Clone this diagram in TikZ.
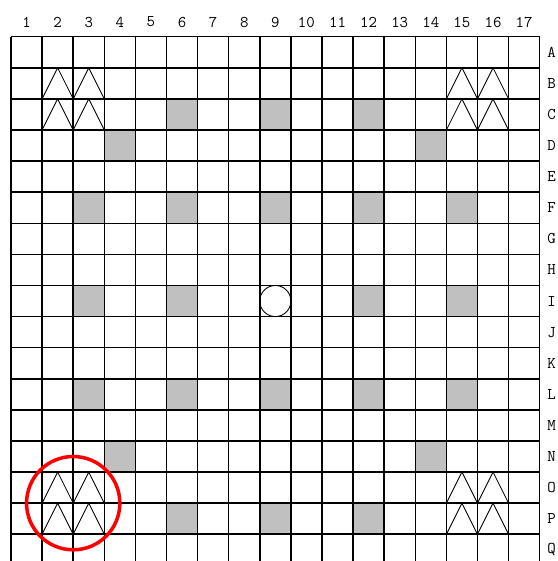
\documentclass[tikz,border=0pt]{standalone}
\usetikzlibrary{calc}
\definecolor{cellgray}{RGB}{192,192,192}
\tikzset{every node/.style={font=\ttfamily\fontsize{15}{17}\selectfont,inner sep=0pt},gridline/.style={line width=1.4pt},roof/.style={line width=.8pt},shade/.style={fill=cellgray}}

\begin{document}
\begin{tikzpicture}[x=1cm,y=-1cm]
\useasboundingbox (-.354,-1.18) rectangle (17.56,16.86);
\foreach \c/\r in {6/3,9/3,12/3,4/4,14/4,3/6,6/6,9/6,12/6,15/6,3/9,6/9,12/9,15/9,3/12,6/12,9/12,12/12,15/12,4/14,14/14,6/16,9/16,12/16}
  \fill[shade] (\c-1,\r-1) rectangle (\c,\r);
\foreach \i in {0,...,16} \draw[gridline] (0,\i)--(17,\i);
\foreach \i in {0,...,17} \draw[gridline] (\i,0)--(\i,16.86);
\foreach \x in {1,14}{\foreach \r in {2,3,15,16}
  \draw[roof] (\x,\r)--(\x+.5,\r-1)--(\x+1,\r)--(\x+1.5,\r-1)--(\x+2,\r);}
\draw[roof] (8.5,8.5) circle (.5);
\draw[red,line width=3.2pt] (2,15) circle (1.5);
\foreach \c in {1,...,17} \node (col\c) at (\c-.5,-.47){\c};
\foreach \r [count=\i] in {A,...,Q} \node (row\r) at (17.38,\i-.5){\r};
\end{tikzpicture}
\end{document}
